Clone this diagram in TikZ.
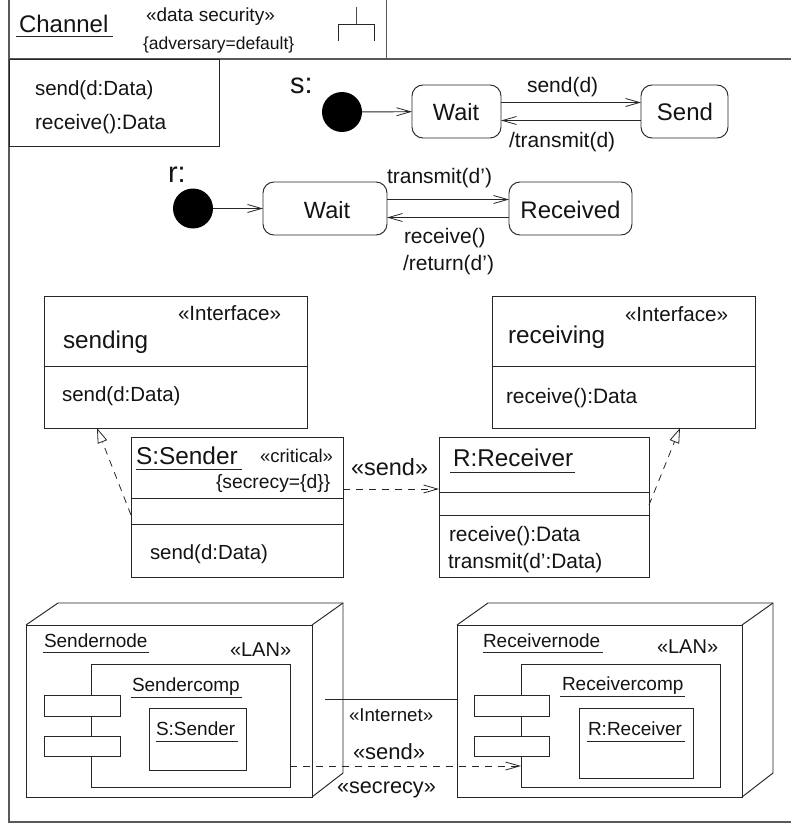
\documentclass[tikz,border=0pt]{standalone}
\usepackage{fontspec}
\setmainfont{Liberation Sans}
\usetikzlibrary{arrows.meta}
\tikzset{
  fs/.style={font=\fontsize{#1}{#1}\selectfont},
  txt/.style={anchor=base west,inner sep=0pt,outer sep=0pt,text=black!92},
  ctxt/.style={anchor=base,inner sep=0pt,outer sep=0pt,text=black!92},
  ln/.style={draw=black!85,line width=0.95pt},
  frameln/.style={draw=black!65,line width=1.1pt},
  boxn/.style={ln,anchor=north west,inner sep=0pt,outer sep=0pt,rectangle,fill=white},
  statebox/.style={ln,anchor=north west,inner sep=0pt,outer sep=0pt,rectangle,rounded corners=11pt,fill=white},
  initn/.style={circle,fill=black,inner sep=0pt,outer sep=0pt,minimum size=40pt},
  flow/.style={ln,-{Straight Barb[length=14pt,width=8pt,line width=0.8pt]}},
  dep/.style={ln,dash pattern=on 7pt off 6pt,-{Straight Barb[length=14pt,width=8pt,line width=0.8pt]}},
  real/.style={ln,line width=0.8pt,dash pattern=on 7pt off 6pt,-{Triangle[open,fill=white,length=15pt,width=10pt,line width=0.8pt]}},
  ul/.style={ln,line width=0.8pt}
}
\begin{document}
\begin{tikzpicture}[x=1pt,y=-1pt]
\useasboundingbox (0,0) rectangle (791,824);
% frame
\coordinate (fa) at (9,0);
\coordinate (fb) at (9,822);
\coordinate (fc) at (791,822);
\coordinate (fd) at (791,59);
\coordinate (fe) at (9,59);
\draw[frameln] (fa) -- (fb) -- (fc);
\draw[frameln] (fe) -- (fd);
\coordinate (ha) at (386,0);
\coordinate (hb) at (386,59);
\draw[frameln,line width=.9pt] (ha) -- (hb);
% header
\node[txt,fs=24] (chan) at (19,33) {Channel};
\coordinate (chu1) at (16,36); \coordinate (chu2) at (113,36);
\draw[ul] (chu1) -- (chu2);
\node[txt,fs=19] (ds) at (146,22) {«data security»};
\node[txt,fs=17.5] (adv) at (143,50) {\{adversary=default\}};
\coordinate (ic1) at (356,7); \coordinate (ic2) at (356,24);
\coordinate (ic3) at (338,41); \coordinate (ic4) at (338,24); \coordinate (ic5) at (374,24); \coordinate (ic6) at (374,41);
\draw[ul,draw=black!70] (ic1) -- (ic2);
\draw[ul] (ic3) -- (ic4) -- (ic5) -- (ic6);
% operations box
\node[boxn,minimum width=210pt,minimum height=87pt] (ops) at (9,59) {};
\node[txt,fs=20.5] (ops1) at (35,96) {send(d:Data)};
\node[txt,fs=20.9] (ops2) at (35,129) {receive():Data};
% state machine s
\node[txt,fs=29] (slab) at (290,94) {s:};
\node[initn] (si) at (342,112) {};
\node[statebox,minimum width=89pt,minimum height=53pt] (sw) at (412,85) {};
\node[statebox,minimum width=87pt,minimum height=53pt] (ss) at (641,85) {};
\node[ctxt,fs=23.5] (swt) at (456,121) {Wait};
\node[ctxt,fs=24] (sst) at (685,121) {Send};
\draw[flow] (si) -- (sw);
\draw[flow] ([yshift=9pt]sw.east) -- ([yshift=9pt]ss.west);
\draw[flow] ([yshift=-9pt]ss.west) -- ([yshift=-9pt]sw.east);
\node[txt,fs=21] (s1) at (527,93) {send(d)};
\node[txt,fs=21] (s2) at (509,147) {/transmit(d)};
% state machine r
\node[txt,fs=29] (rlab) at (168,182) {r:};
\node[initn] (ri) at (193,208.5) {};
\node[statebox,minimum width=124pt,minimum height=53pt] (rw) at (263,182) {};
\node[statebox,minimum width=123pt,minimum height=53pt] (rr) at (509,182) {};
\node[ctxt,fs=23.5] (rwt) at (327,218) {Wait};
\node[ctxt,fs=24] (rrt) at (570.5,218) {Received};
\draw[flow] (ri) -- (rw);
\draw[flow] ([yshift=9pt]rw.east) -- ([yshift=9pt]rr.west);
\draw[flow] ([yshift=-9pt]rr.west) -- ([yshift=-9pt]rw.east);
\node[txt,fs=21] (r1) at (387,183) {transmit(d')};
\node[txt,fs=21] (r2) at (404,243) {receive()};
\node[txt,fs=21] (r3) at (403,270) {/return(d')};
% interface sending
\node[boxn,minimum width=263pt,minimum height=132pt] (isend) at (44,296) {};
\coordinate (isl) at (0,366);
\draw[ln] (isend.west |- isl) -- (isend.east |- isl);
\node[txt,fs=20.6] (is1) at (178,320) {«Interface»};
\node[txt,fs=24.3] (is2) at (63,348) {sending};
\node[txt,fs=20.5] (is3) at (62,401) {send(d:Data)};
% interface receiving
\node[boxn,minimum width=263pt,minimum height=132pt] (irec) at (492,296) {};
\draw[ln] (irec.west |- isl) -- (irec.east |- isl);
\node[txt,fs=20.6] (ir1) at (625,321) {«Interface»};
\node[txt,fs=24.3] (ir2) at (508,343) {receiving};
\node[txt,fs=20.9] (ir3) at (506,403) {receive():Data};
% S:Sender
\node[boxn,minimum width=212pt,minimum height=140pt] (cs) at (131,437) {};
\coordinate (cs1) at (0,498); \coordinate (cs2) at (0,524);
\draw[ln] (cs.west |- cs1) -- (cs.east |- cs1);
\draw[ln] (cs.west |- cs2) -- (cs.east |- cs2);
\node[txt,fs=24.4] (cst) at (136,464) {S:Sender};
\coordinate (csu1) at (136,469); \coordinate (csu2) at (242,469);
\draw[ul] (csu1) -- (csu2);
\node[txt,fs=18.5] (csc) at (260,462) {«critical»};
\node[txt,fs=19.3] (css) at (216,488) {\{secrecy=\{d\}\}};
\node[txt,fs=20.4] (cso) at (150,559) {send(d:Data)};
% R:Receiver
\node[boxn,minimum width=210pt,minimum height=140pt] (cr) at (439,437) {};
\coordinate (cr1) at (0,492); \coordinate (cr2) at (0,515);
\draw[ln] (cr.west |- cr1) -- (cr.east |- cr1);
\draw[ln] (cr.west |- cr2) -- (cr.east |- cr2);
\node[txt,fs=24.3] (crt) at (453,466) {R:Receiver};
\coordinate (cru1) at (450,472); \coordinate (cru2) at (575,472);
\draw[ul] (cru1) -- (cru2);
\node[txt,fs=20.9] (cro1) at (449,541) {receive():Data};
\node[txt,fs=20.9] (cro2) at (448,568) {transmit(d':Data)};
% class connectors
\coordinate (dl) at (0,489);
\draw[dep] (cs.east |- dl) -- (cr.west |- dl);
\node[txt,fs=23.5] (sendl) at (351,475) {«send»};
\coordinate (rl1) at (0,515); \coordinate (rl2) at (97,0);
\coordinate (rr1) at (0,505); \coordinate (rr2) at (680,0);
\draw[real] (cs.west |- rl1) -- (rl2 |- isend.south);
\draw[real] (cr.east |- rr1) -- (rr2 |- irec.south);
% sender node
\node[boxn,minimum width=286pt,minimum height=172pt] (sn) at (26,625) {};
\coordinate (sb1) at (58,603); \coordinate (sb2) at (343,603); \coordinate (sb3) at (343,773);
\draw[ln] (sn.north west) -- (sb1) -- (sb2) -- (sb3) -- (sn.south east);
\draw[ln] (sn.north east) -- (sb2);
\node[txt,fs=19] (snt) at (44,647) {Sendernode};
\coordinate (snu1) at (43,652); \coordinate (snu2) at (149,652);
\draw[ul] (snu1) -- (snu2);
\node[txt,fs=20] (snl) at (230,656) {«LAN»};
\node[boxn,minimum width=199pt,minimum height=123pt] (sc) at (91,664) {};
\node[boxn,minimum width=76pt,minimum height=21pt] (sp1) at (44,695) {};
\node[boxn,minimum width=76pt,minimum height=20pt] (sp2) at (44,736) {};
\node[txt,fs=19] (sct) at (132,691) {Sendercomp};
\coordinate (scu1) at (131,697); \coordinate (scu2) at (242,697);
\draw[ul] (scu1) -- (scu2);
\node[boxn,minimum width=97pt,minimum height=62pt] (sobj) at (149,708) {};
\node[txt,fs=19] (sobjt) at (156,735) {S:Sender};
\coordinate (sou1) at (156,741); \coordinate (sou2) at (238,741);
\draw[ul] (sou1) -- (sou2);
% receiver node
\node[boxn,minimum width=285pt,minimum height=172pt] (rn) at (457,625) {};
\coordinate (rb1) at (488,603); \coordinate (rb2) at (773,603); \coordinate (rb3) at (773,773);
\draw[ln] (rn.north west) -- (rb1) -- (rb2) -- (rb3) -- (rn.south east);
\draw[ln] (rn.north east) -- (rb2);
\node[txt,fs=19] (rnt) at (483,647) {Receivernode};
\coordinate (rnu1) at (483,652); \coordinate (rnu2) at (603,652);
\draw[ul] (rnu1) -- (rnu2);
\node[txt,fs=20] (rnl) at (657,653) {«LAN»};
\node[boxn,minimum width=199pt,minimum height=123pt] (rc) at (521,664) {};
\node[boxn,minimum width=75pt,minimum height=21pt] (rp1) at (474,695) {};
\node[boxn,minimum width=75pt,minimum height=20pt] (rp2) at (474,736) {};
\node[txt,fs=19] (rct) at (562,690) {Receivercomp};
\coordinate (rcu1) at (560,696); \coordinate (rcu2) at (685,696);
\draw[ul] (rcu1) -- (rcu2);
\node[boxn,minimum width=114pt,minimum height=70pt] (robj) at (579,708) {};
\node[txt,fs=19] (robjt) at (588,735) {R:Receiver};
\coordinate (rou1) at (587,741); \coordinate (rou2) at (685,741);
\draw[ul] (rou1) -- (rou2);
% node connectors
\coordinate (il) at (325,699);
\draw[ln] (il) -- (rn.west |- il);
\node[txt,fs=18.7] (intl) at (349,721) {«Internet»};
\coordinate (dpl) at (0,766);
\draw[dep] (sc.east |- dpl) -- (rc.west |- dpl);
\node[txt,fs=22] (s2l) at (353,759) {«send»};
\node[txt,fs=21.7] (secl) at (337,793) {«secrecy»};
\end{tikzpicture}
\end{document}
